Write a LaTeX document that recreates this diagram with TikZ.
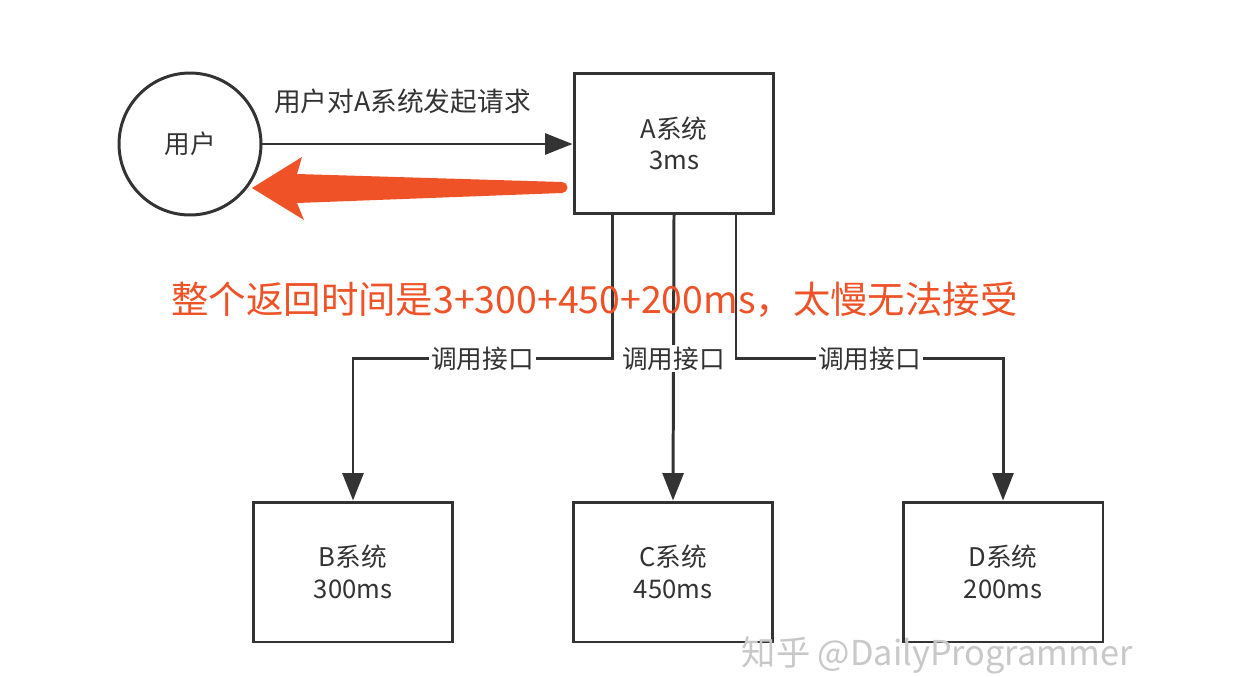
\documentclass[tikz,border=0pt]{standalone}
\usepackage{fontspec}
\newfontfamily\cjk{Noto Sans CJK SC}
\usetikzlibrary{arrows.meta}
\definecolor{ink}{RGB}{51,51,51}
\definecolor{alert}{RGB}{238,82,38}
\definecolor{wm}{RGB}{200,200,200}
\tikzset{
  sysbox/.style={draw=ink, line width=1.7pt, minimum width=4.0cm, minimum height=2.8cm, align=center, text=ink, font=\cjk\fontsize{14.6}{18}\selectfont, inner sep=0pt},
  usercircle/.style={draw=ink, line width=1.7pt, circle, minimum size=2.84cm, text=ink, font=\cjk\fontsize{14.6}{18}\selectfont, inner sep=0pt},
  conn/.style={draw=ink, line width=1.7pt, -{Triangle[length=0.55cm,width=0.42cm]}},
  lbl/.style={fill=white, text=ink, font=\cjk\fontsize{14.6}{18}\selectfont, inner sep=1pt},
}
\begin{document}
\begin{tikzpicture}[x=0.02cm,y=-0.02cm]
\useasboundingbox[fill=white] (0,0) rectangle (1250,676);
% nodes
\node[usercircle] (user) at (190,144) {用户};
\node[sysbox] (A) at (674,143.5) {A系统\\3ms};
\node[sysbox] (B) at (353,572) {B系统\\300ms};
\node[sysbox] (C) at (673,572) {C系统\\450ms};
\node[sysbox] (D) at (1003,572) {D系统\\200ms};
% request arrow
\draw[conn] (user) -- node[above=13pt, text=ink, font=\cjk\fontsize{15.2}{18}\selectfont, xshift=-0.3cm] {用户对A系统发起请求} (A.west |- user.east);
% calls
\draw[conn] ([xshift=-1.24cm]A.south) -- ++(0,144) -| node[lbl, pos=0.25] {调用接口} (B.north);
\draw[conn] (A.south) -- node[lbl, pos=0.503] {调用接口} (C.north);
\draw[conn] ([xshift=1.24cm]A.south) -- ++(0,144) -| node[lbl, pos=0.25] {调用接口} (D.north);
% orange return arrow
\fill[alert] (562,182) -- (297,174) -- (302,157) -- (252,188) -- (304,220) -- (297,203) -- (562,193) -- cycle;
\fill[alert] (562,187.5) circle[radius=0.11cm];
% message
\node[text=alert, font=\cjk\fontsize{21.3}{24}\selectfont, inner sep=0pt] (msg) at (594.5,300) {整个返回时间是3+300+450+200ms，太慢无法接受};
% watermark
\node[text=wm, font=\cjk\fontsize{19.5}{22}\selectfont, inner sep=0pt] (wmk) at (937,655) {知乎 @DailyProgrammer};
\end{tikzpicture}
\end{document}
